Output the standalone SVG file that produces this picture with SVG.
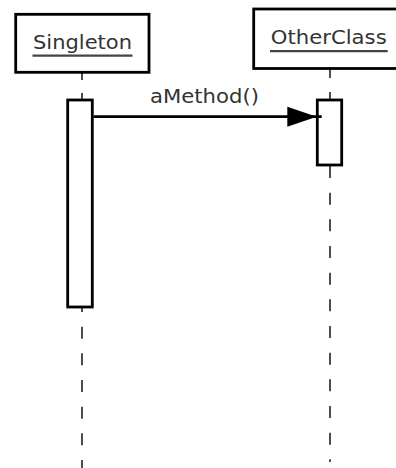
<svg xmlns="http://www.w3.org/2000/svg" width="396" height="468" viewBox="0 0 396 468">
  <defs>
    <style>
      .head { fill: #ffffff; stroke: #000000; stroke-width: 2.8; }
      .bar { fill: #ffffff; stroke: #000000; stroke-width: 2.8; }
      .label { font-family: "DejaVu Sans", "Liberation Sans", sans-serif; font-size: 19px; fill: #333333; }
      .uline { stroke: #444444; stroke-width: 2.2; }
      .life { stroke: #3a3a3a; stroke-width: 1.8; fill: none; }
      .msg { stroke: #000000; stroke-width: 2.8; fill: none; }
    </style>
    <marker id="filled" markerUnits="userSpaceOnUse" viewBox="0 0 36 22" markerWidth="36" markerHeight="22" refX="34.4" refY="11" orient="auto">
      <path d="M0,1 L29.4,11 L0,21 Z" fill="#000000"/>
    </marker>
  </defs>
  <rect width="396" height="468" fill="#ffffff"/>

  <!-- lifeline: Singleton -->
  <g id="singleton">
    <line class="life" x1="82" y1="73" x2="82" y2="100" stroke-dasharray="7 13"/>
    <line class="life" x1="82" y1="308" x2="82" y2="468" stroke-dasharray="12 14.67" stroke-dashoffset="8"/>
    <rect class="head" x="15.7" y="14.3" width="133.3" height="58"/>
    <text class="label" x="82.5" y="49" text-anchor="middle" textLength="99" lengthAdjust="spacingAndGlyphs">Singleton</text>
    <line class="uline" x1="32.5" y1="55.7" x2="132.5" y2="55.7"/>
    <rect class="bar" x="67.7" y="100" width="24.6" height="207"/>
  </g>

  <!-- lifeline: OtherClass -->
  <g id="otherclass">
    <line class="life" x1="330" y1="69" x2="330" y2="100" stroke-dasharray="9 14"/>
    <line class="life" x1="330" y1="166" x2="330" y2="462" stroke-dasharray="12 14.67"/>
    <rect class="head" x="253.7" y="9" width="160" height="59.5"/>
    <text class="label" x="328.7" y="44" text-anchor="middle" textLength="116" lengthAdjust="spacingAndGlyphs">OtherClass</text>
    <line class="uline" x1="270" y1="51.2" x2="387.7" y2="51.2"/>
    <rect class="bar" x="317.3" y="100" width="24.4" height="65"/>
  </g>

  <!-- messages -->
  <g id="connectors">
    <line class="msg" x1="93.5" y1="116.7" x2="321.7" y2="116.7" marker-end="url(#filled)"/>
    <text class="label" x="204.5" y="103" text-anchor="middle" textLength="109" lengthAdjust="spacingAndGlyphs">aMethod()</text>
  </g>
</svg>
